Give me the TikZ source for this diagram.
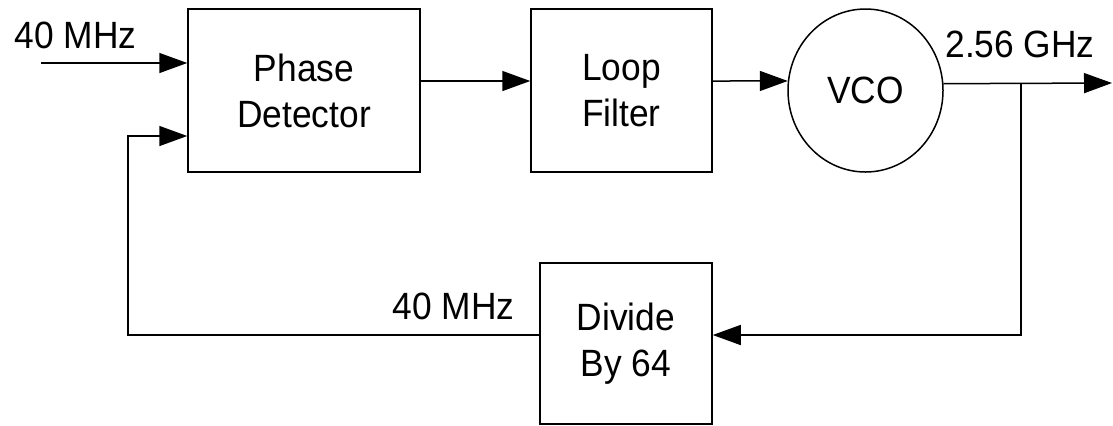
\documentclass[tikz,border=0pt]{standalone}
\usepackage{fontspec}
\setmainfont[FakeStretch=0.93]{Liberation Sans}
\usetikzlibrary{arrows.meta,shapes.geometric}
\begin{document}
\begin{tikzpicture}[x=0.5pt,y=-0.5pt,
  every node/.style={font=\fontsize{19}{23}\selectfont},
  blk/.style={draw, line width=0.75pt, rectangle, align=center, inner sep=0pt},
  osc/.style={draw, line width=0.75pt, ellipse, inner sep=0pt, minimum width=77.5pt, minimum height=81.5pt},
  wire/.style={line width=0.75pt},
  arr/.style={wire, -{Triangle[length=14pt,width=10pt]}},
  lbl/.style={inner sep=0pt}]
\fill[white] (0,0) rectangle (1113,425);
\useasboundingbox (0,0) rectangle (1113,425);

% blocks
\node[blk, minimum width=116pt, minimum height=81.5pt] (pd) at (304,90.5) {Phase\\Detector};
\node[blk, minimum width=90.5pt, minimum height=81.5pt] (lf) at (621.5,90.5) {Loop\\Filter};
\node[osc] (vco) at (865.5,90.5) {VCO};
\node[blk, minimum width=86pt, minimum height=80.5pt] (div) at (626,343.5) {Divide\\By 64};

% labels
\node[lbl] (lin) at (75.5,35) {40 MHz};
\node[lbl] (lout) at (1020,44.5) {2.56 GHz};
\node[lbl] (lfb) at (453.5,306) {40 MHz};

% helper coordinates
\coordinate (in) at (41,63);
\coordinate (a81) at (0,81);
\coordinate (out) at (1112,83);
\coordinate (j) at (1021,83);
\coordinate (fb) at (0,335);
\coordinate (fbc) at (128,136);

% connectors
\draw[arr] (in) -- (in -| pd.west);
\draw[arr] (pd.east |- a81) -- (lf.west |- a81);
\draw[arr] (lf.east |- a81) -- (vco.173);
\draw[arr] (vco.5.5) -- (out);
\draw[arr] (j) |- (div.east |- fb);
\draw[arr] (div.west |- fb) -| (fbc) -- (fbc -| pd.west);
\end{tikzpicture}
\end{document}
